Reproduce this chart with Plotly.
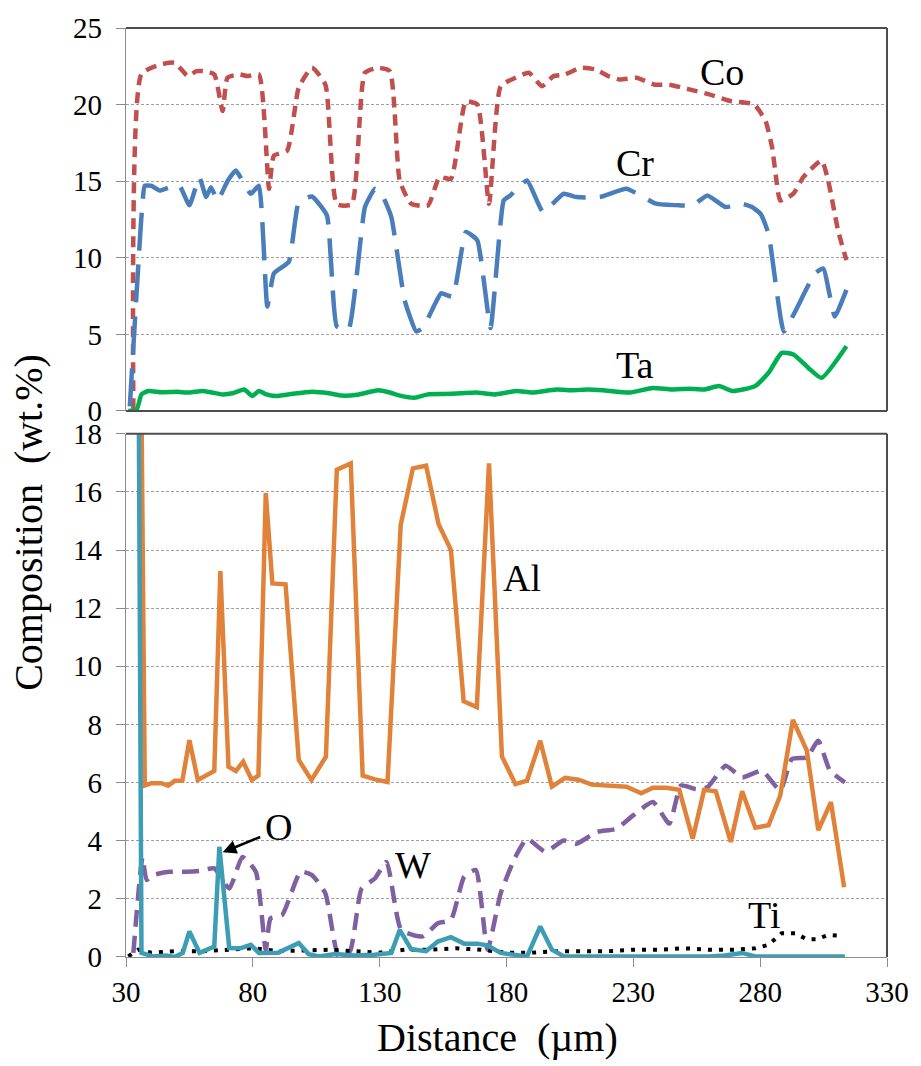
import plotly.graph_objects as go

# ---------------- data ----------------
co_x = [32.9, 36.1, 43.3, 49.2, 54.4, 57.7, 60.9, 64.8, 68.1, 70.0, 74.6, 77.9, 82.4, 86.4, 88.3, 93.5,
        98.1, 103.3, 108.6, 113.1, 119.0, 124.2, 129.4, 134.0, 137.9, 142.4, 149.0, 153.6, 158.1, 164.0,
        168.5, 173.1, 177.7, 183.5, 188.8, 194.0, 198.5, 203.1, 209.0, 214.9, 220.1, 224.7, 231.2, 238.4,
        244.2, 252.1, 259.9, 268.4, 277.5, 282.1, 284.7, 286.6, 287.9, 293.1, 297.0, 304.2, 306.8, 310.7, 314.0]
co_y = [0.1, 22.0, 22.6, 22.73, 21.86, 22.18, 22.18, 21.97, 19.58, 21.75, 21.97, 21.86, 21.97, 14.5, 16.66, 16.99,
        21.1, 22.4, 21.3, 13.5, 13.5, 22.08, 22.4, 22.18, 15.04, 13.53, 13.4, 15.26, 15.15, 20.2,
        20.0, 13.53, 21.2, 21.75, 22.08, 21.2, 21.86, 21.97, 22.4, 22.3, 21.86, 21.64, 21.75, 21.3,
        21.3, 20.99, 20.67, 20.23, 20.02, 18.94, 17.2, 14.83, 13.74, 14.18, 15.26, 16.34, 15.04, 11.79, 9.84]

cr_x = [31.5, 36.1, 37.4, 40.0, 43.3, 47.2, 51.1, 55.0, 58.9, 61.6, 63.5, 66.1, 70.0, 73.3, 79.2, 82.4,
        85.7, 88.3, 94.2, 98.1, 103.3, 109.2, 113.1, 117.7, 124.2, 128.1, 130.7, 134.6, 139.8, 144.4,
        147.0, 151.6, 154.2, 158.8, 164.0, 168.5, 173.7, 178.9, 181.5, 188.1, 194.4, 202.5, 207.7, 216.8,
        227.3, 239.0, 248.1, 253.4, 259.2, 266.4, 272.9, 276.8, 280.1, 283.3, 289.3, 293.8, 301.6, 304.9,
        309.4, 314.0]
cr_y = [0.3, 12.7, 14.7, 14.7, 14.39, 14.6, 14.7, 13.42, 15.26, 13.96, 14.61, 13.74, 15.0, 15.69, 14.18, 14.7,
        6.82, 8.98, 9.74, 13.64, 14.0, 12.77, 5.52, 5.3, 13.31, 14.5, 14.2, 12.66, 7.25, 5.19,
        5.4, 6.92, 7.68, 7.47, 11.69, 11.14, 5.41, 13.74, 14.07, 15.04, 12.99, 14.18, 13.96, 13.96,
        14.5, 13.53, 13.42, 13.42, 14.07, 13.31, 13.53, 13.31, 12.88, 11.58, 5.19, 6.49, 8.98, 9.3,
        6.17, 7.9]

ta_x = [30.9, 34.2, 36.1, 38.7, 44.0, 50.0, 55.0, 60.0, 64.0, 68.1, 72.0, 76.6, 79.8, 82.4, 85.0, 89.0,
        95.0, 103.3, 110.0, 115.1, 121.0, 129.4, 134.0, 138.0, 143.8, 149.0, 155.0, 162.0, 168.0, 175.0,
        184.2, 190.0, 199.7, 206.0, 212.0, 218.0, 228.6, 237.7, 245.0, 252.0, 258.0, 263.8, 269.2, 278.0,
        283.3, 288.5, 293.1, 299.0, 304.2, 314.0]
ta_y = [0.0, 0.1, 1.08, 1.3, 1.22, 1.25, 1.2, 1.3, 1.2, 1.08, 1.15, 1.4, 0.97, 1.3, 1.1, 0.97,
        1.1, 1.25, 1.15, 1.0, 1.05, 1.35, 1.2, 1.0, 0.86, 1.08, 1.1, 1.15, 1.2, 1.08,
        1.3, 1.2, 1.4, 1.35, 1.4, 1.35, 1.2, 1.5, 1.4, 1.45, 1.4, 1.62, 1.3, 1.62,
        2.49, 3.79, 3.68, 2.81, 2.16, 4.22]

al_x = [35.5, 37.4, 40.0, 44.0, 46.6, 49.2, 52.2, 55.0, 58.3, 61.6, 64.8, 67.2, 70.4, 73.3, 76.2, 79.6,
        82.2, 85.1, 87.7, 92.9, 98.1, 103.1, 108.8, 113.1, 118.6, 123.3, 128.1, 133.1, 138.3, 143.1,
        148.3, 153.2, 158.1, 163.1, 168.3, 173.1, 178.2, 183.5, 188.1, 193.3, 197.9, 203.1, 208.4, 213.6,
        220.7, 227.3, 233.1, 237.7, 242.9, 248.1, 253.4, 257.9, 262.5, 268.4, 272.9, 278.1, 283.3, 287.9,
        292.9, 298.4, 302.9, 307.9, 313.1]
al_y = [25.0, 5.9, 5.98, 5.98, 5.89, 6.06, 6.06, 7.46, 6.09, 6.26, 6.4, 13.28, 6.55, 6.4, 6.72, 6.09,
        6.24, 15.96, 12.85, 12.82, 6.78, 6.09, 6.89, 16.76, 16.98, 6.24, 6.11, 6.02, 14.87, 16.81,
        16.9, 14.9, 14.0, 8.8, 8.6, 16.98, 6.9, 5.95, 6.07, 7.44, 5.86, 6.16, 6.1, 5.93,
        5.9, 5.86, 5.63, 5.82, 5.82, 5.75, 4.07, 5.75, 5.7, 3.96, 5.7, 4.45, 4.53, 5.55,
        8.16, 7.1, 4.36, 5.33, 2.4]

w_x = [32.9, 36.5, 38.1, 40.7, 47.2, 53.8, 59.0, 64.8, 70.7, 75.9, 81.2, 85.1, 87.0, 91.6, 98.8, 103.3,
       108.6, 113.8, 118.3, 122.9, 128.1, 132.7, 138.5, 147.0, 152.9, 158.1, 163.3, 167.9, 172.5, 177.7,
       183.5, 188.1, 195.3, 202.5, 207.7, 215.5, 223.3, 229.9, 237.7, 244.2, 248.8, 254.7, 259.2, 266.4,
       272.9, 280.7, 287.9, 292.5, 298.4, 302.9, 307.5, 313.4]
w_y = [0.14, 3.42, 2.65, 2.82, 2.93, 2.93, 2.96, 3.05, 2.36, 3.44, 2.93, 0.25, 1.33, 1.45, 2.93, 2.82,
       2.19, 0.02, 0.2, 2.36, 2.7, 3.27, 0.93, 0.71, 1.16, 1.28, 2.76, 2.99, 0.25, 2.19,
       3.44, 4.07, 3.62, 4.01, 3.9, 4.3, 4.41, 4.87, 5.33, 4.59, 5.9, 5.78, 5.84, 6.58,
       6.18, 6.41, 5.73, 6.81, 6.87, 7.44, 6.41, 6.01]

o_x = [34.7, 36.1, 40.7, 46.0, 49.0, 52.4, 55.0, 59.0, 64.8, 66.8, 70.7, 75.0, 79.2, 82.4, 90.0, 98.1,
       102.0, 106.0, 112.5, 120.0, 128.0, 134.6, 137.9, 142.4, 148.3, 152.9, 158.1, 163.3, 168.5, 172.5,
       177.7, 188.1, 193.3, 197.9, 202.5, 220.0, 240.0, 260.0, 266.0, 272.9, 278.0, 295.0, 313.4]
o_y = [25.0, 0.14, 0.02, 0.05, 0.0, 0.14, 0.88, 0.14, 0.36, 3.79, 0.31, 0.3, 0.42, 0.14, 0.15, 0.48,
       0.1, 0.02, 0.1, 0.05, 0.08, 0.14, 0.93, 0.27, 0.2, 0.53, 0.68, 0.46, 0.46, 0.4,
       0.14, 0.02, 1.05, 0.25, 0.03, 0.02, 0.02, 0.02, 0.05, 0.14, 0.02, 0.02, 0.02]

ti_x = [30.9, 34.8, 40, 50, 60, 70, 80, 90, 100, 110, 120, 130, 140, 150, 160, 170, 180, 190, 200,
        210, 220, 230, 240, 250, 260, 270, 278.1, 283.3, 288.5, 293.8, 298.4, 302.3, 306.8, 310.7]
ti_y = [0.02, 0.25, 0.15, 0.2, 0.2, 0.25, 0.3, 0.2, 0.22, 0.25, 0.2, 0.15, 0.25, 0.25, 0.3, 0.25, 0.15,
        0.15, 0.2, 0.2, 0.2, 0.25, 0.25, 0.3, 0.25, 0.25, 0.3, 0.42, 0.82, 0.82, 0.61, 0.61, 0.76, 0.74]

x_ticks = [30, 80, 130, 180, 230, 280, 330]
top_ticks = [0, 5, 10, 15, 20, 25]
bot_ticks = [0, 2, 4, 6, 8, 10, 12, 14, 16, 18]

# ---------------- figure ----------------
FONT = "Liberation Serif, Times New Roman, serif"
LW = 4.5
fig = go.Figure()

fig.add_trace(go.Scatter(x=co_x, y=co_y, mode="lines", xaxis="x", yaxis="y",
                         line=dict(color="#C0504D", width=LW, dash="11px,7px", shape="spline", smoothing=0.5)))
fig.add_trace(go.Scatter(x=cr_x, y=cr_y, mode="lines", xaxis="x", yaxis="y",
                         line=dict(color="#4A7EBB", width=LW, dash="38px,14px", shape="spline", smoothing=0.4)))
fig.add_trace(go.Scatter(x=ta_x, y=ta_y, mode="lines", xaxis="x", yaxis="y",
                         line=dict(color="#00B050", width=LW, shape="spline", smoothing=0.5)))

fig.add_trace(go.Scatter(x=w_x, y=w_y, mode="lines", xaxis="x2", yaxis="y2",
                         line=dict(color="#7F60A0", width=LW, dash="17px,9px", shape="spline", smoothing=0.5)))
fig.add_trace(go.Scatter(x=al_x, y=al_y, mode="lines", xaxis="x2", yaxis="y2",
                         line=dict(color="#E0823A", width=LW)))
fig.add_trace(go.Scatter(x=ti_x, y=ti_y, mode="lines", xaxis="x2", yaxis="y2",
                         line=dict(color="#000000", width=4, dash="4px,7px")))
fig.add_trace(go.Scatter(x=o_x, y=o_y, mode="lines", xaxis="x2", yaxis="y2",
                         line=dict(color="#3C9DB5", width=LW)))

GRAY = "#8C8C8C"
DARK = "#4D4D4D"
axis_common = dict(showline=True, linecolor=GRAY, linewidth=1.3, ticks="outside", ticklen=9,
                   tickcolor=GRAY, tickfont=dict(family=FONT, size=29, color="black"))

fig.update_layout(
    width=921, height=1066,
    margin=dict(l=126, r=28, t=23, b=109),
    paper_bgcolor="white", plot_bgcolor="white",
    font=dict(family=FONT, color="black"),
    showlegend=False,
    xaxis=dict(domain=[0, 1], anchor="y", range=[30, 330], tickvals=x_ticks, showticklabels=False,
               showgrid=False, zeroline=False, showline=False, ticks=""),
    yaxis=dict(domain=[0.5878, 1], anchor="x", range=[0, 25], tickvals=top_ticks,
               showgrid=True, gridcolor="#A0A0A0", griddash="3px,2px", gridwidth=1, zeroline=False,
               ticklabelstandoff=8, **axis_common),
    xaxis2=dict(domain=[0, 1], anchor="y2", range=[30, 330], tickvals=x_ticks, matches="x",
                showgrid=False, zeroline=False, ticklabelstandoff=0, **axis_common),
    yaxis2=dict(domain=[0, 0.5632], anchor="x2", range=[0, 18], tickvals=bot_ticks,
                showgrid=True, gridcolor="#A0A0A0", griddash="3px,2px", gridwidth=1, zeroline=False,
                ticklabelstandoff=8, **axis_common),
)

# dark frame edges (top, right, and bottom of the upper panel; top and right of the lower panel)
frame = dict(type="line", line=dict(color=DARK, width=2), layer="above")
fig.add_shape(xref="x domain", yref="y domain", x0=0, x1=1, y0=1, y1=1, **frame)
fig.add_shape(xref="x domain", yref="y domain", x0=1, x1=1, y0=0, y1=1, **frame)
fig.add_shape(xref="x domain", yref="y domain", x0=0, x1=1, y0=0, y1=0, **frame)
fig.add_shape(xref="x2 domain", yref="y2 domain", x0=0, x1=1, y0=1, y1=1, **frame)
fig.add_shape(xref="x2 domain", yref="y2 domain", x0=1, x1=1, y0=0, y1=1, **frame)

lab_font = dict(family=FONT, size=38, color="black")
labels_top = [("Co", 265.0, 22.1), ("Cr", 230.5, 16.2), ("Ta", 230.5, 3.0)]
for t, x, y in labels_top:
    fig.add_annotation(text=t, x=x, y=y, xref="x", yref="y", showarrow=False, font=lab_font)
labels_bot = [("Al", 186.2, 13.03), ("W", 143.1, 3.16), ("Ti", 281.4, 1.45)]
for t, x, y in labels_bot:
    fig.add_annotation(text=t, x=x, y=y, xref="x2", yref="y2", showarrow=False, font=lab_font)

fig.add_annotation(text="O", x=90.3, y=4.47, xref="x2", yref="y2", showarrow=False, font=lab_font)
fig.add_annotation(text="", x=68.1, y=3.6, ax=83.5, ay=4.15, xref="x2", yref="y2",
                   axref="x2", ayref="y2", showarrow=True, arrowhead=2, arrowsize=1.1,
                   arrowwidth=2.5, arrowcolor="black")

fig.add_annotation(text="Composition\u00a0 (wt.%)", xref="paper", yref="paper", x=-0.128, y=0.468,
                   xanchor="center", yanchor="middle",
                   textangle=-90, showarrow=False, font=dict(family=FONT, size=40, color="black"))
fig.add_annotation(text="Distance\u00a0 (µm)", xref="paper", yref="paper", x=0.4876, y=-0.087,
                   xanchor="center", yanchor="middle",
                   showarrow=False, font=dict(family=FONT, size=40, color="black"))

fig.write_html("out.html")
